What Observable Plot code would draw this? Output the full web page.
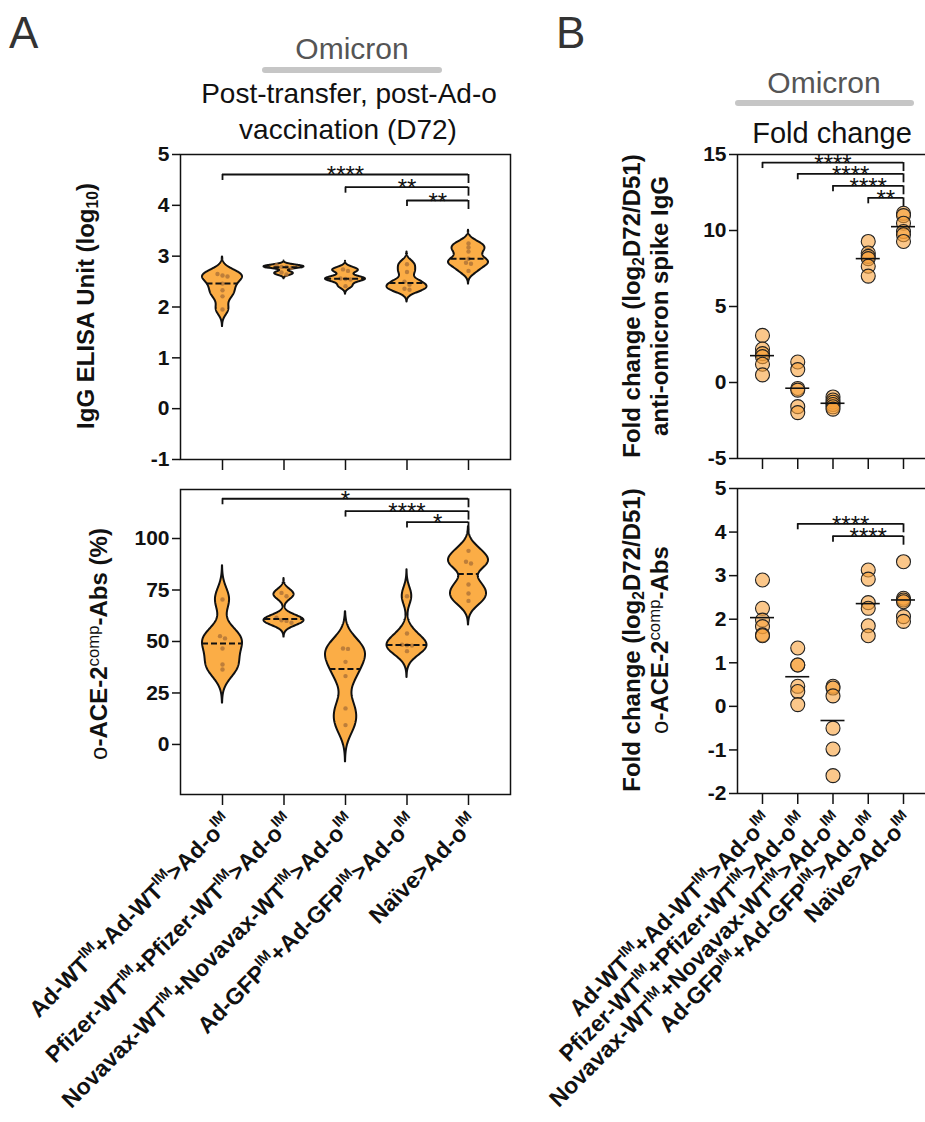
<!DOCTYPE html>
<html><head><meta charset="utf-8">
<script src="https://cdn.jsdelivr.net/npm/d3@7"></script>
<script src="https://cdn.jsdelivr.net/npm/@observablehq/plot@0.6"></script>
<style>
body{margin:0;background:#fff;}
#root{position:relative;width:925px;height:1122px;overflow:hidden;font-family:"Liberation Sans",Arial,sans-serif;background:#fff;}
.t{position:absolute;white-space:nowrap;line-height:1;}
.rot{position:absolute;transform:translate(-50%,-50%) rotate(-90deg);white-space:nowrap;font-weight:bold;font-size:24px;color:#111;text-align:center;line-height:28px;}
.rot sub{font-size:0.65em;vertical-align:-0.25em;line-height:0}
.rot sup{font-size:0.7em;vertical-align:0.45em;line-height:0;font-weight:normal}
.bar{position:absolute;background:#c6c6c6;border-radius:3px;height:6px;}
.svgbox{position:absolute;}
</style></head><body><div id="root"></div>
<script>
// ---------- data ----------
const groups = [
  "Ad-WT^IM+Ad-WT^IM>Ad-o^IM",
  "Pfizer-WT^IM+Pfizer-WT^IM>Ad-o^IM",
  "Novavax-WT^IM+Novavax-WT^IM>Ad-o^IM",
  "Ad-GFP^IM+Ad-GFP^IM>Ad-o^IM",
  "Naïve>Ad-o^IM"
];
// Panel A top: IgG ELISA Unit (log10), D72
const iggD72 = [
  [2.65, 2.62, 2.60, 2.46, 2.33, 2.21, 1.95],
  [2.82, 2.79, 2.79, 2.77, 2.68, 2.64],
  [2.74, 2.71, 2.56, 2.55, 2.54, 2.41],
  [2.84, 2.69, 2.50, 2.44, 2.36, 2.34],
  [3.25, 3.17, 3.09, 2.95, 2.87, 2.85, 2.71]
];
// Panel A bottom: o-ACE-2comp-Abs (%)
const aceD72 = [
  [70.4, 52.6, 51.5, 46.6, 38.8, 36.4],
  [73.6, 72.0, 61.5, 60.3, 60.0, 59.1],
  [46.6, 46.4, 40.1, 33.2, 17.5, 9.4],
  [72.0, 53.9, 48.4, 48.2, 48.0, 45.3],
  [94.0, 88.7, 87.9, 77.7, 73.3, 69.7]
];
// Panel B top: fold change anti-omicron spike IgG
const fcIgg = [
  [3.1, 2.2, 1.9, 1.7, 1.2, 0.5],
  [1.35, 0.85, -0.39, -0.5, -1.59, -1.98],
  [-0.95, -1.15, -1.3, -1.45, -1.6, -1.75],
  [9.28, 8.52, 8.3, 8.15, 7.65, 7.0],
  [11.13, 10.98, 10.48, 9.93, 9.72, 9.28]
];
// Panel B bottom: fold change o-ACE-2comp-Abs
const fcAce = [
  [2.9, 2.25, 1.98, 1.83, 1.64, 1.62],
  [1.34, 0.95, 0.95, 0.46, 0.34, 0.04],
  [0.46, 0.42, 0.24, -0.5, -0.98, -1.59],
  [3.13, 2.92, 2.38, 2.25, 1.85, 1.62],
  [3.32, 2.48, 2.44, 2.4, 2.06, 1.95]
];
const yTicksIgg = [-1, 0, 1, 2, 3, 4, 5];
const yTicksAce = [0, 25, 50, 75, 100];
const yTicksFcIgg = [-5, 0, 5, 10, 15];
const yTicksFcAce = [-2, -1, 0, 1, 2, 3, 4, 5];
const sigIgg = [
  {from: 0, to: 4, y: 4.607, label: "****"},
  {from: 2, to: 4, y: 4.357, label: "**"},
  {from: 3, to: 4, y: 4.095, label: "**"}
];
const sigAce = [
  {from: 0, to: 4, y: 119.3, label: "*"},
  {from: 2, to: 4, y: 113.3, label: "****"},
  {from: 3, to: 4, y: 108.0, label: "*"}
];
const sigFcIgg = [
  {from: 0, to: 4, y: 14.47, label: "****"},
  {from: 1, to: 4, y: 13.73, label: "****"},
  {from: 2, to: 4, y: 12.94, label: "****"},
  {from: 3, to: 4, y: 12.15, label: "**"}
];
const sigFcAce = [
  {from: 1, to: 4, y: 4.19, label: "****"},
  {from: 2, to: 4, y: 3.905, label: "****"}
];

// ---------- drawing ----------
const root = document.getElementById("root");
const INK = "#111";
const SVGNS = "http://www.w3.org/2000/svg";

function supify(svg) {
  svg.querySelectorAll("text").forEach(t => {
    const s = t.textContent;
    if (!s.includes("^")) return;
    t.textContent = "";
    const parts = s.split("^IM");
    let raised = false;
    parts.forEach((p, k) => {
      if (p) {
        const ts = document.createElementNS(SVGNS, "tspan");
        ts.textContent = p;
        if (raised) { ts.setAttribute("dy", "10"); raised = false; }
        t.appendChild(ts);
      }
      if (k < parts.length - 1) {
        const sp = document.createElementNS(SVGNS, "tspan");
        sp.textContent = "IM";
        sp.setAttribute("font-size", "14.5");
        if (!raised) sp.setAttribute("dy", "-10");
        raised = true;
        t.appendChild(sp);
      }
    });
  });
}

function panel(o) {
  const frameH = o.height - o.mTop - o.mBottom;
  const frameW = o.width - o.mLeft - o.mRight;
  const uy = (o.yDomain[1] - o.yDomain[0]) / frameH;
  const ux = (o.xDomain[1] - o.xDomain[0]) / frameW;
  const marks = [];
  if (o.kind === "violin") {
    const area = [], med = [], dots = [];
    o.values.forEach((vals, i) => {
      const bw = 0.16 * (d3.max(vals) - d3.min(vals));
      const lo = d3.min(vals) - 3 * bw, hi = d3.max(vals) + 3 * bw;
      const dens = y => d3.sum(vals, v => Math.exp(-0.5 * ((y - v) / bw) ** 2));
      const N = 200;
      const ys = d3.range(N + 1).map(k => lo + (hi - lo) * k / N);
      const ds = ys.map(dens);
      const dmax = d3.max(ds);
      const hw = 20 * ux;
      ys.forEach((y, k) => area.push({g: i, y, x1: i - hw * ds[k] / dmax, x2: i + hw * ds[k] / dmax}));
      const m = d3.median(vals);
      const wm = hw * dens(m) / dmax;
      med.push({y: m, x1: i - wm, x2: i + wm});
      const sorted = vals.slice().sort((a, b) => b - a);
      const thr = 3.5 * uy;
      let cluster = [];
      const flush = () => {
        cluster.forEach((v, j) => dots.push({x: i + (j - (cluster.length - 1) / 2) * 5 * ux, y: v}));
        cluster = [];
      };
      sorted.forEach(v => {
        if (cluster.length && cluster[cluster.length - 1] - v > thr) flush();
        cluster.push(v);
      });
      flush();
    });
    marks.push(Plot.areaX(area, {y: "y", x1: "x1", x2: "x2", z: "g", fill: "#FBAD46", stroke: INK, strokeWidth: 2}));
    marks.push(Plot.dot(dots, {x: "x", y: "y", r: 2.2, fill: "#B27638", fillOpacity: 0.85}));
    marks.push(Plot.ruleY(med, {y: "y", x1: "x1", x2: "x2", stroke: INK, strokeWidth: 2, strokeDasharray: "6,3"}));
  } else {
    const pts = o.values.flatMap((vals, i) => vals.map(v => ({x: i, y: v})));
    const means = o.values.map((vals, i) => ({y: d3.mean(vals), x1: i - 12 * ux, x2: i + 12 * ux}));
    marks.push(Plot.dot(pts, {x: "x", y: "y", r: 7, fill: "#F9A23C", fillOpacity: 0.6, stroke: "#222", strokeWidth: 1.1}));
    marks.push(Plot.ruleY(means, {y: "y", x1: "x1", x2: "x2", stroke: INK, strokeWidth: 1.6}));
  }
  // significance brackets
  const hl = o.sig.map(s => ({x1: s.from, x2: s.to, y: s.y}));
  const drops = o.sig.flatMap(s => [
    {x: s.from, y1: s.y, y2: s.y - 6 * uy},
    {x: s.to, y1: s.y, y2: s.y - 9 * uy}
  ]);
  marks.push(Plot.ruleY(hl, {y: "y", x1: "x1", x2: "x2", stroke: INK, strokeWidth: 1.8}));
  marks.push(Plot.ruleX(drops, {x: "x", y1: "y1", y2: "y2", stroke: INK, strokeWidth: 1.8}));
  marks.push(Plot.text(o.sig, {x: s => (s.from + s.to) / 2, y: "y", text: "label", lineAnchor: "bottom", dy: 9, fontSize: 24, fontWeight: "normal", fill: INK}));
  // frame
  if (o.fullFrame) marks.push(Plot.frame({stroke: INK, strokeWidth: 1.5}));
  else {
    marks.push(Plot.ruleY([o.yDomain[0], o.yDomain[1]], {stroke: INK, strokeWidth: 1.5}));
    marks.push(Plot.ruleX([o.xDomain[0]], {stroke: INK, strokeWidth: 1.5}));
  }
  marks.push(Plot.axisY({ticks: o.yTicks, tickSize: 8, tickPadding: 3, tickFormat: d => String(d), fontSize: 21, fontWeight: "bold", strokeWidth: 1.5, label: null}));
  marks.push(Plot.axisX({ticks: [0, 1, 2, 3, 4], tickSize: 11, tickFormat: () => "", strokeWidth: 1.5, label: null}));
  if (o.labels) {
    marks.push(Plot.text(groups.map((g, i) => ({i, g})), {x: "i", frameAnchor: "bottom", text: "g", rotate: -45, textAnchor: "end", lineAnchor: "middle", dx: 6, dy: 24, fontSize: 23, fontWeight: "bold", fill: INK}));
  }
  const svg = Plot.plot({
    width: o.width, height: o.height,
    marginTop: o.mTop, marginBottom: o.mBottom, marginLeft: o.mLeft, marginRight: o.mRight,
    x: {type: "linear", domain: o.xDomain},
    y: {type: "linear", domain: o.yDomain},
    style: {fontFamily: "'Liberation Sans', Arial, sans-serif", fontSize: "21px", color: INK, background: "transparent", overflow: "visible"},
    marks
  });
  supify(svg);
  const box = document.createElement("div");
  box.className = "svgbox";
  box.style.left = o.left + "px";
  box.style.top = o.top + "px";
  box.appendChild(svg);
  root.appendChild(box);
}

const xA = [-0.683, 4.683];
const xB = [-0.709, 4.624];
panel({kind: "violin", values: iggD72, yDomain: [-1, 5], yTicks: yTicksIgg, sig: sigIgg, xDomain: xA,
  left: 0, top: 140, width: 520, height: 339, mTop: 14, mBottom: 20, mLeft: 180, mRight: 10, fullFrame: true, labels: false});
panel({kind: "violin", values: aceD72, yDomain: [-24.3, 123.8], yTicks: yTicksAce, sig: sigAce, xDomain: xA,
  left: 0, top: 470, width: 520, height: 652, mTop: 19, mBottom: 328, mLeft: 180, mRight: 10, fullFrame: true, labels: true});
panel({kind: "scatter", values: fcIgg, yDomain: [-5, 15], yTicks: yTicksFcIgg, sig: sigFcIgg, xDomain: xB,
  left: 600, top: 140, width: 325, height: 338, mTop: 14, mBottom: 20, mLeft: 137, mRight: 0, fullFrame: false, labels: false});
panel({kind: "scatter", values: fcAce, yDomain: [-2, 5], yTicks: yTicksFcAce, sig: sigFcAce, xDomain: xB,
  left: 600, top: 470, width: 325, height: 652, mTop: 18, mBottom: 329, mLeft: 137, mRight: 0, fullFrame: false, labels: true});

// ---------- html text ----------
function txt(html, x, capTop, fs, opts = {}) {
  const d = document.createElement("div");
  d.className = "t";
  d.innerHTML = html;
  d.style.fontSize = fs + "px";
  d.style.top = (capTop - 0.13 * fs) + "px";
  d.style.color = opts.color || INK;
  if (opts.weight) d.style.fontWeight = opts.weight;
  if (opts.center) { d.style.left = x + "px"; d.style.transform = "translateX(-50%)"; }
  else d.style.left = x + "px";
  root.appendChild(d);
}
function bar(x1, x2, y) {
  const d = document.createElement("div");
  d.className = "bar";
  d.style.left = x1 + "px"; d.style.width = (x2 - x1) + "px"; d.style.top = y + "px";
  root.appendChild(d);
}
function rot(html, cx, cy) {
  const d = document.createElement("div");
  d.className = "rot";
  d.innerHTML = html;
  d.style.left = cx + "px"; d.style.top = cy + "px";
  root.appendChild(d);
}
txt("A", 9, 17, 44, {color: "#333"});
txt("B", 556, 17, 44, {color: "#333"});
txt("Omicron", 352, 38, 30, {color: "#555", center: true});
bar(262, 442, 67);
txt("Post-transfer, post-Ad-o", 349, 84, 28, {center: true});
txt("vaccination (D72)", 348, 120, 28, {center: true});
txt("Omicron", 824, 72, 30, {color: "#555", center: true});
bar(735, 914, 100);
txt("Fold change", 832, 123, 29, {center: true});

rot("IgG ELISA Unit (log<sub>10</sub>)", 86, 306);
rot("<span style='font-weight:normal'>ο</span>-ACE-2<sup>comp</sup>-Abs (%)", 99, 644);
rot("Fold change (log<sub>2</sub>D72/D51)<br>anti-omicron spike IgG", 646, 306);
rot("Fold change (log<sub>2</sub>D72/D51)<br><span style='font-weight:normal'>ο</span>-ACE-2<sup>comp</sup>-Abs", 646, 640);
</script></body></html>
